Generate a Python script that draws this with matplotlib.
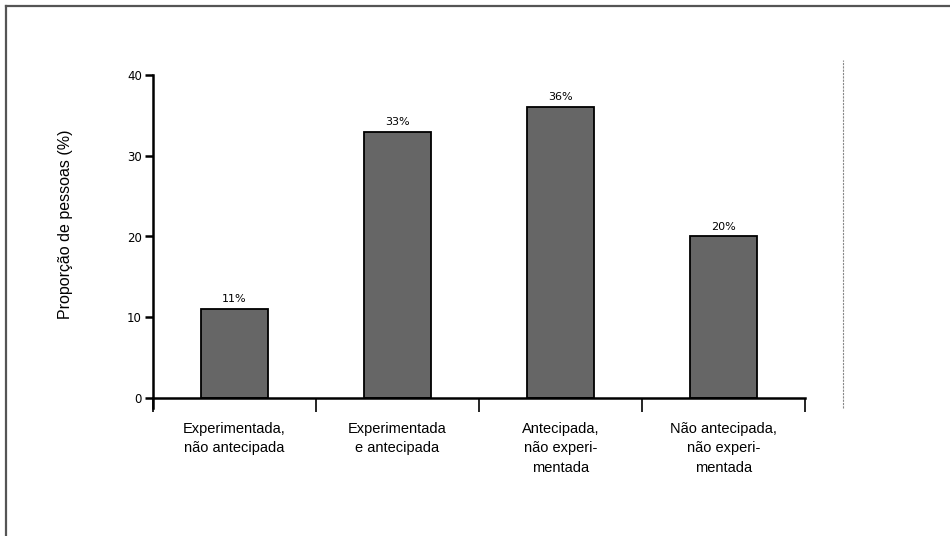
import numpy as np
import matplotlib.pyplot as plt
from matplotlib.lines import Line2D

# data
categorias = ['Experimentada,\nnão antecipada',
              'Experimentada\ne antecipada',
              'Antecipada,\nnão experi-\nmentada',
              'Não antecipada,\nnão experi-\nmentada']
valores = [11, 33, 36, 20]
rotulos = ['11%', '33%', '36%', '20%']
yticks = [0, 10, 20, 30, 40]

fig = plt.figure(figsize=(9.5, 5.36), dpi=100)
ax = fig.add_axes([153/950, 1 - 398/536, 652/950, 323/536])

x = np.arange(len(valores))
ax.bar(x, valores, width=0.41, color='#666666', edgecolor='black', linewidth=1.3)

for xi, v, r in zip(x, valores, rotulos):
    ax.text(xi, v + 0.6, r, ha='center', va='bottom', fontsize=8, family='DejaVu Sans')

ax.set_xlim(-0.5, 3.5)
ax.set_ylim(0, 40)

for s in ['top', 'right']:
    ax.spines[s].set_visible(False)
ax.spines['left'].set_linewidth(1.8)
ax.spines['bottom'].set_linewidth(1.8)
ax.spines['left'].set_bounds(-1.2, 40)

ax.set_yticks(yticks)
ax.set_yticklabels([str(t) for t in yticks], fontsize=8.5, family='DejaVu Sans')
ax.tick_params(axis='y', direction='out', length=6, width=1.8, pad=2)

ax.set_xticks(x)
ax.set_xticklabels(categorias, fontsize=10.5, family='Liberation Sans', linespacing=1.5)
ax.tick_params(axis='x', which='major', length=0, pad=17)
ax.set_xticks(np.arange(-0.5, 4.0, 1.0), minor=True)
ax.tick_params(axis='x', which='minor', direction='out', length=10, width=1.2)

ax.set_ylabel('Proporção de pessoas (%)', fontsize=11.5, family='Liberation Sans')
ax.yaxis.set_label_coords(-80/652, 0.539)

# moldura da figura (só topo e esquerda) e linha pontilhada do scan
fig.add_artist(Line2D([6/950, 6/950], [0, 1 - 6/536], transform=fig.transFigure,
                      color='#555555', linewidth=1.6))
fig.add_artist(Line2D([6/950, 1], [1 - 6/536, 1 - 6/536], transform=fig.transFigure,
                      color='#555555', linewidth=1.6))
fig.add_artist(Line2D([843/950, 843/950], [1 - 408/536, 1 - 60/536], transform=fig.transFigure,
                      color='#888888', linewidth=0.8, linestyle=(0, (2, 1))))

fig.savefig('out.png', dpi=100)
